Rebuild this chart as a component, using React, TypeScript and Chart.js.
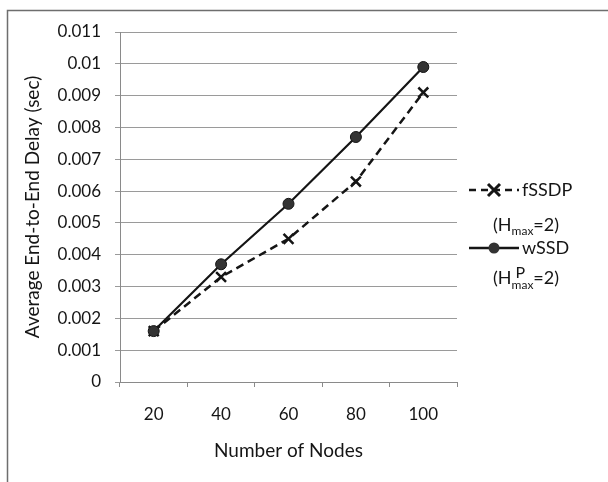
import React, { useEffect, useRef } from "react";
import { Chart, registerables } from "chart.js";

Chart.register(...registerables);

const categories = ["20", "40", "60", "80", "100"];
const fSSDPValues = [0.0016, 0.0033, 0.0045, 0.0063, 0.0091];
const wSSDValues = [0.0016, 0.0037, 0.0056, 0.0077, 0.0099];
const yMin = 0;
const yMax = 0.011;
const yStep = 0.001;
const xTitle = "Number of Nodes";
const yTitle = "Average End-to-End Delay (sec)";

const FONT = "Lato, 'Open Sans', sans-serif";
const INK = "#151515";

const framePlugin = {
  id: "frameAndLegend",
  beforeDraw(chart: any) {
    const ctx = chart.ctx;
    ctx.save();
    ctx.fillStyle = "#ffffff";
    ctx.fillRect(0, 0, chart.width, chart.height);
    ctx.strokeStyle = "#6e6e6e";
    ctx.lineWidth = 1.5;
    ctx.strokeRect(7.5, 10.5, 700, 600);
    ctx.restore();
  },
  afterDraw(chart: any) {
    const ctx = chart.ctx;
    ctx.save();
    ctx.fillStyle = INK;
    ctx.strokeStyle = INK;
    ctx.textBaseline = "middle";
    ctx.textAlign = "left";

    // fSSDP entry
    let y = 190;
    ctx.lineWidth = 2.5;
    ctx.setLineDash([7, 5]);
    ctx.beginPath();
    ctx.moveTo(469, y);
    ctx.lineTo(519, y);
    ctx.stroke();
    ctx.setLineDash([]);
    ctx.lineWidth = 3;
    const cx = 494, r = 6;
    ctx.beginPath();
    ctx.moveTo(cx - r, y - r);
    ctx.lineTo(cx + r, y + r);
    ctx.moveTo(cx + r, y - r);
    ctx.lineTo(cx - r, y + r);
    ctx.stroke();
    ctx.font = `18px ${FONT}`;
    ctx.fillText("fSSDP", 522, y);

    // (H_max=2)
    y = 225;
    let x = 493;
    ctx.font = `18px ${FONT}`;
    ctx.fillText("(H", x, y);
    x += ctx.measureText("(H").width;
    ctx.font = `12px ${FONT}`;
    ctx.fillText("max", x, y + 6);
    x += ctx.measureText("max").width;
    ctx.font = `18px ${FONT}`;
    ctx.fillText("=2)", x, y);

    // wSSD entry
    y = 248;
    ctx.lineWidth = 2.5;
    ctx.beginPath();
    ctx.moveTo(469, y);
    ctx.lineTo(519, y);
    ctx.stroke();
    ctx.fillStyle = "#333333";
    ctx.beginPath();
    ctx.arc(494, y, 5.5, 0, Math.PI * 2);
    ctx.fill();
    ctx.fillStyle = INK;
    ctx.font = `18px ${FONT}`;
    ctx.fillText("wSSD", 522, y);

    // (H^P_max=2)
    y = 278;
    x = 493;
    ctx.font = `18px ${FONT}`;
    ctx.fillText("(H", x, y);
    x += ctx.measureText("(H").width;
    ctx.font = `16px ${FONT}`;
    ctx.fillText("P", x + 4, y - 5);
    ctx.font = `12px ${FONT}`;
    ctx.fillText("max", x, y + 7);
    x += ctx.measureText("max").width;
    ctx.font = `18px ${FONT}`;
    ctx.fillText("=2)", x, y);
    ctx.restore();
  },
};

export default function App() {
  const ref = useRef<HTMLCanvasElement | null>(null);

  useEffect(() => {
    if (!ref.current) return;
    const chart = new Chart(ref.current, {
      type: "line",
      data: {
        labels: categories,
        datasets: [
          {
            label: "wSSD",
            data: wSSDValues,
            borderColor: INK,
            backgroundColor: "#333333",
            borderWidth: 2.2,
            pointStyle: "circle",
            pointRadius: 5.5,
            pointBorderWidth: 1,
            pointBackgroundColor: "#333333",
            pointBorderColor: INK,
            tension: 0,
          },
          {
            label: "fSSDP",
            data: fSSDPValues,
            borderColor: INK,
            borderWidth: 2.5,
            borderDash: [8, 5],
            pointStyle: "crossRot",
            pointRadius: 7,
            pointBorderWidth: 2.5,
            pointBorderColor: INK,
            tension: 0,
          },
        ],
      },
      options: {
        responsive: false,
        animation: false,
        layout: { padding: { left: 17, right: 151, top: 32, bottom: 16 } },
        plugins: {
          legend: { display: false },
          tooltip: { enabled: false },
        },
        scales: {
          x: {
            type: "category",
            offset: true,
            grid: {
              offset: true,
              drawOnChartArea: false,
              drawTicks: true,
              tickLength: 5,
              color: "#8a8a8a",
            },
            border: { color: "#8a8a8a", width: 1 },
            ticks: {
              color: INK,
              padding: 17,
              font: { family: FONT, size: 17 },
              maxRotation: 0,
            },
            title: {
              display: true,
              text: xTitle,
              color: INK,
              font: { family: FONT, size: 19 },
              padding: { top: 0, bottom: 4 },
            },
            afterFit(scale: any) {
              scale.height = 84;
            },
          },
          y: {
            min: yMin,
            max: yMax,
            grid: {
              color: "#9a9a9a",
              tickLength: 5,
              lineWidth: 1,
            },
            border: { color: "#8a8a8a", width: 1 },
            ticks: {
              stepSize: yStep,
              color: INK,
              padding: 14,
              font: { family: FONT, size: 17 },
              callback: (v: any) => String(Number(Number(v).toFixed(3))),
            },
            title: {
              display: true,
              text: yTitle,
              color: INK,
              font: { family: FONT, size: 19 },
              padding: { top: 4, bottom: 0 },
            },
            afterFit(scale: any) {
              scale.width = 103;
            },
          },
        },
      },
      plugins: [framePlugin],
    });
    return () => chart.destroy();
  }, []);

  return (
    <div style={{ position: "absolute", left: 0, top: 0, width: 608, height: 482 }}>
      <canvas ref={ref} width={608} height={482} style={{ display: "block" }} />
    </div>
  );
}
